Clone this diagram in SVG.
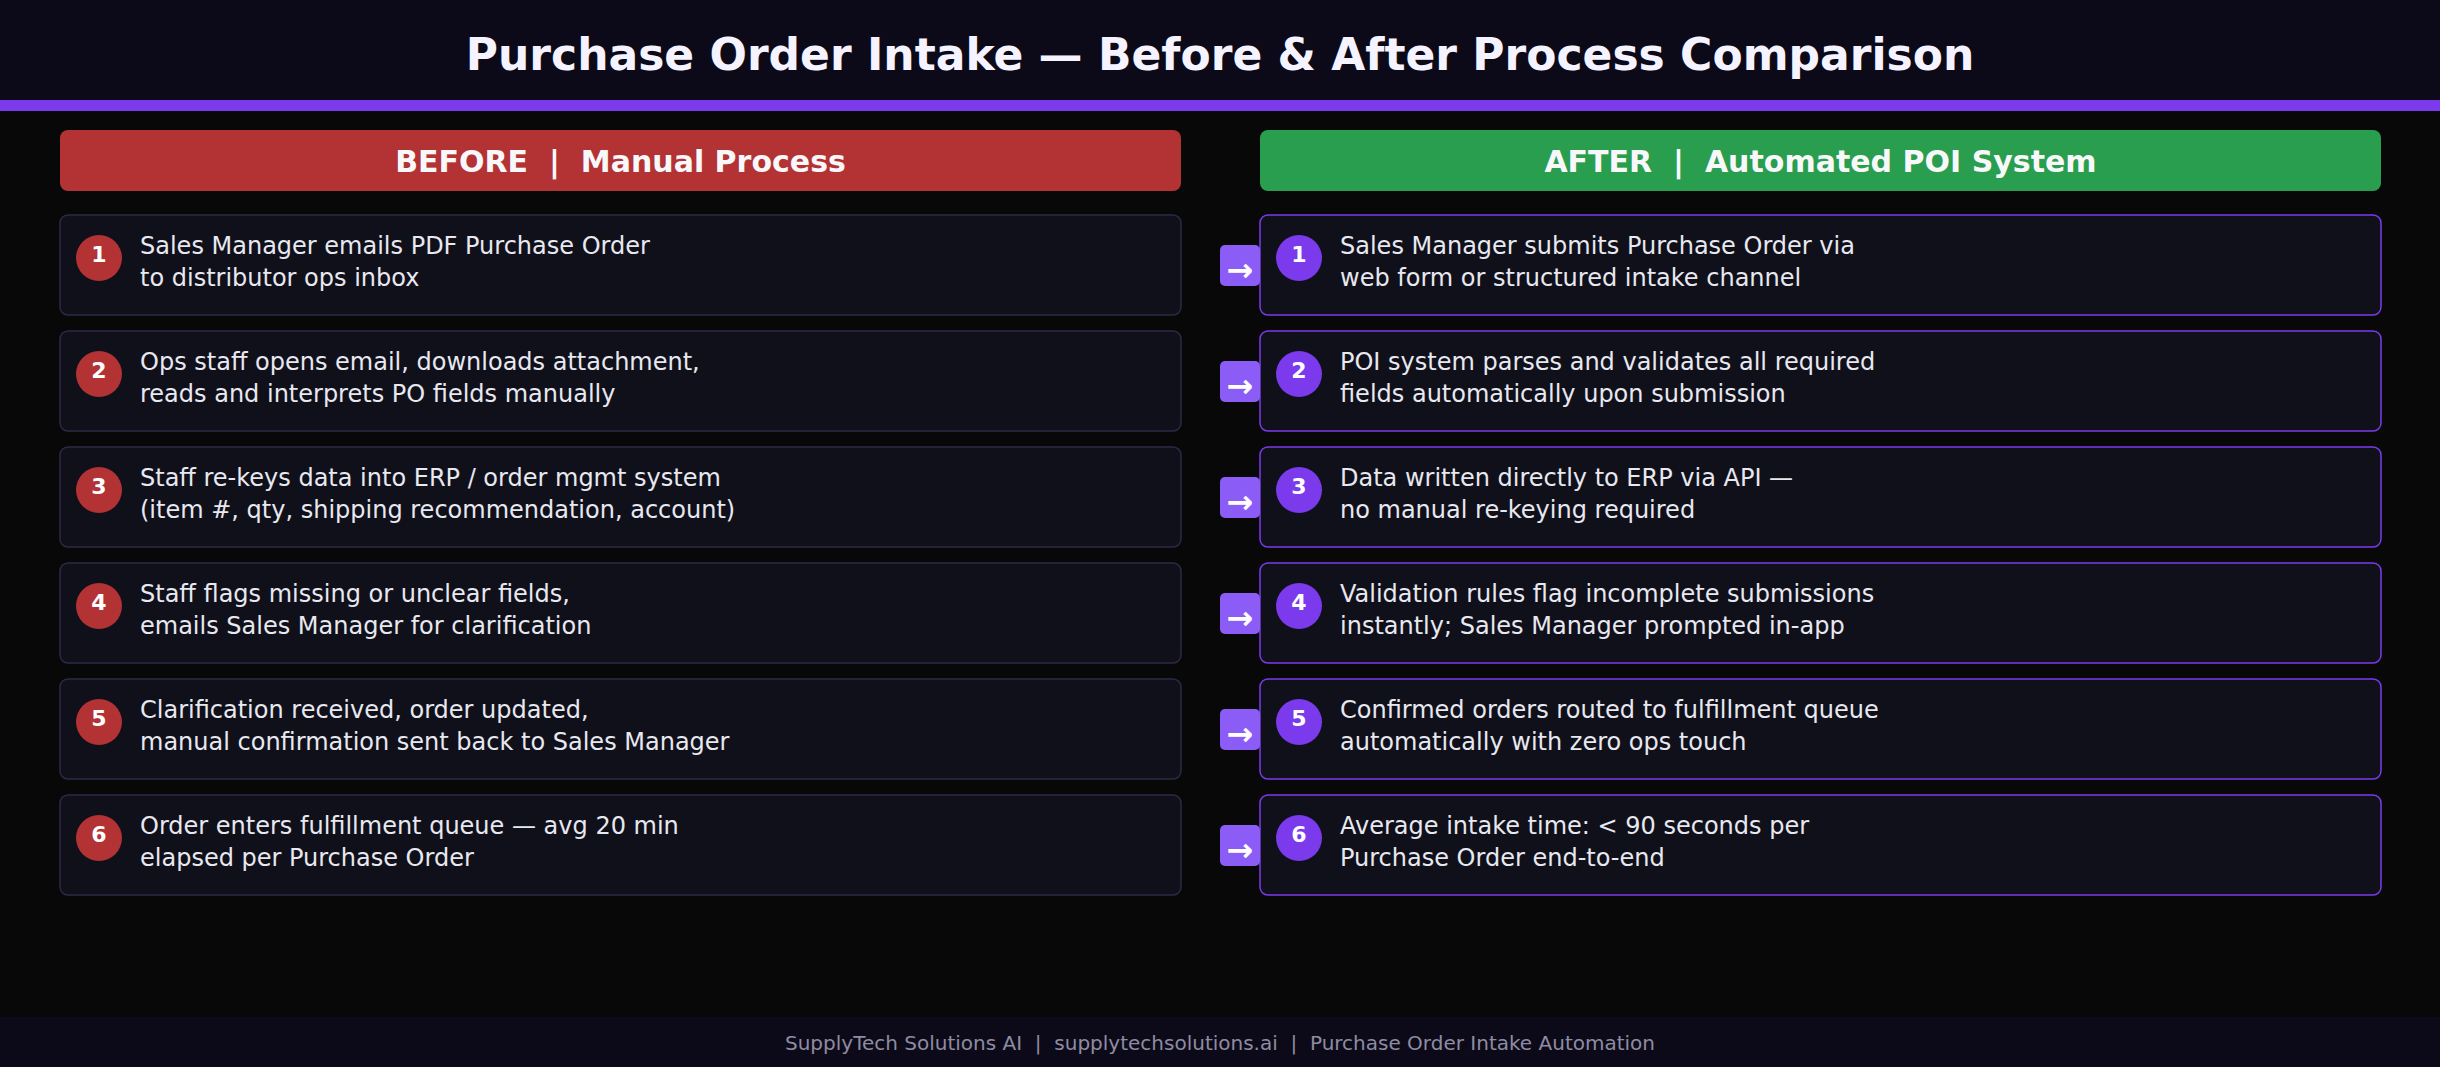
<svg xmlns="http://www.w3.org/2000/svg" width="2440" height="1067" viewBox="0 0 2440 1067">
<style>
text{font-family:"DejaVu Sans","Verdana",sans-serif}
.title{font-size:44px;font-weight:bold;fill:#f5f3ff;text-anchor:middle}
.colhead{font-size:30px;font-weight:bold;fill:#f8f8fb;text-anchor:middle}
.card-b{fill:#10101b;stroke:#2c2a44;stroke-width:1.5}
.card-a{fill:#10101b;stroke:#7c3aed;stroke-width:1.5}
.num{font-size:22px;font-weight:bold;fill:#ffffff;text-anchor:middle}
.body{font-size:24px;fill:#e8e8f0}
.arrowbox{fill:#8b5cf6}
.arrow{font-size:32px;font-weight:bold;fill:#ffffff;text-anchor:middle}
.foot{font-size:20px;fill:#8e8ca2;text-anchor:middle}
</style>
<rect x="0" y="0" width="2440" height="1067" fill="#080808"/>
<g id="header">
<rect x="0" y="0" width="2440" height="100" fill="#0c0a18"/>
<rect x="0" y="100" width="2440" height="11" fill="#7c3aed"/>
<text class="title" x="1220" y="70">Purchase Order Intake — Before &amp; After Process Comparison</text>
</g>
<g id="before-header">
<rect x="60" y="130" width="1121" height="61" rx="8" fill="#b33234"/>
<text class="colhead" x="620.5" y="172" xml:space="preserve">BEFORE  |  Manual Process</text>
</g>
<g id="after-header">
<rect x="1260" y="130" width="1121" height="61" rx="8" fill="#2a9e4f"/>
<text class="colhead" x="1820.5" y="172" xml:space="preserve">AFTER  |  Automated POI System</text>
</g>
<g id="before-1" transform="translate(60,215)">
<rect class="card-b" x="0" y="0" width="1121" height="100" rx="8"/>
<circle cx="39" cy="43" r="23" fill="#b33234"/><text class="num" x="39" y="47">1</text>
<text class="body" x="80" y="39">Sales Manager emails PDF Purchase Order</text>
<text class="body" x="80" y="70.5">to distributor ops inbox</text>
</g>
<g id="before-2" transform="translate(60,331)">
<rect class="card-b" x="0" y="0" width="1121" height="100" rx="8"/>
<circle cx="39" cy="43" r="23" fill="#b33234"/><text class="num" x="39" y="47">2</text>
<text class="body" x="80" y="39">Ops staff opens email, downloads attachment,</text>
<text class="body" x="80" y="70.5">reads and interprets PO fields manually</text>
</g>
<g id="before-3" transform="translate(60,447)">
<rect class="card-b" x="0" y="0" width="1121" height="100" rx="8"/>
<circle cx="39" cy="43" r="23" fill="#b33234"/><text class="num" x="39" y="47">3</text>
<text class="body" x="80" y="39">Staff re-keys data into ERP / order mgmt system</text>
<text class="body" x="80" y="70.5">(item #, qty, shipping recommendation, account)</text>
</g>
<g id="before-4" transform="translate(60,563)">
<rect class="card-b" x="0" y="0" width="1121" height="100" rx="8"/>
<circle cx="39" cy="43" r="23" fill="#b33234"/><text class="num" x="39" y="47">4</text>
<text class="body" x="80" y="39">Staff flags missing or unclear fields,</text>
<text class="body" x="80" y="70.5">emails Sales Manager for clarification</text>
</g>
<g id="before-5" transform="translate(60,679)">
<rect class="card-b" x="0" y="0" width="1121" height="100" rx="8"/>
<circle cx="39" cy="43" r="23" fill="#b33234"/><text class="num" x="39" y="47">5</text>
<text class="body" x="80" y="39">Clarification received, order updated,</text>
<text class="body" x="80" y="70.5">manual confirmation sent back to Sales Manager</text>
</g>
<g id="before-6" transform="translate(60,795)">
<rect class="card-b" x="0" y="0" width="1121" height="100" rx="8"/>
<circle cx="39" cy="43" r="23" fill="#b33234"/><text class="num" x="39" y="47">6</text>
<text class="body" x="80" y="39">Order enters fulfillment queue — avg 20 min</text>
<text class="body" x="80" y="70.5">elapsed per Purchase Order</text>
</g>
<g id="after-1" transform="translate(1260,215)">
<rect class="card-a" x="0" y="0" width="1121" height="100" rx="8"/>
<circle cx="39" cy="43" r="23" fill="#7c3aed"/><text class="num" x="39" y="47">1</text>
<text class="body" x="80" y="39">Sales Manager submits Purchase Order via</text>
<text class="body" x="80" y="70.5">web form or structured intake channel</text>
</g>
<g id="after-2" transform="translate(1260,331)">
<rect class="card-a" x="0" y="0" width="1121" height="100" rx="8"/>
<circle cx="39" cy="43" r="23" fill="#7c3aed"/><text class="num" x="39" y="47">2</text>
<text class="body" x="80" y="39">POI system parses and validates all required</text>
<text class="body" x="80" y="70.5">fields automatically upon submission</text>
</g>
<g id="after-3" transform="translate(1260,447)">
<rect class="card-a" x="0" y="0" width="1121" height="100" rx="8"/>
<circle cx="39" cy="43" r="23" fill="#7c3aed"/><text class="num" x="39" y="47">3</text>
<text class="body" x="80" y="39">Data written directly to ERP via API —</text>
<text class="body" x="80" y="70.5">no manual re-keying required</text>
</g>
<g id="after-4" transform="translate(1260,563)">
<rect class="card-a" x="0" y="0" width="1121" height="100" rx="8"/>
<circle cx="39" cy="43" r="23" fill="#7c3aed"/><text class="num" x="39" y="47">4</text>
<text class="body" x="80" y="39">Validation rules flag incomplete submissions</text>
<text class="body" x="80" y="70.5">instantly; Sales Manager prompted in-app</text>
</g>
<g id="after-5" transform="translate(1260,679)">
<rect class="card-a" x="0" y="0" width="1121" height="100" rx="8"/>
<circle cx="39" cy="43" r="23" fill="#7c3aed"/><text class="num" x="39" y="47">5</text>
<text class="body" x="80" y="39">Confirmed orders routed to fulfillment queue</text>
<text class="body" x="80" y="70.5">automatically with zero ops touch</text>
</g>
<g id="after-6" transform="translate(1260,795)">
<rect class="card-a" x="0" y="0" width="1121" height="100" rx="8"/>
<circle cx="39" cy="43" r="23" fill="#7c3aed"/><text class="num" x="39" y="47">6</text>
<text class="body" x="80" y="39">Average intake time: &lt; 90 seconds per</text>
<text class="body" x="80" y="70.5">Purchase Order end-to-end</text>
</g>
<g id="connectors">
<g transform="translate(1220,245)"><rect class="arrowbox" x="0" y="0" width="40" height="41" rx="5"/><text class="arrow" x="20" y="36">→</text></g>
<g transform="translate(1220,361)"><rect class="arrowbox" x="0" y="0" width="40" height="41" rx="5"/><text class="arrow" x="20" y="36">→</text></g>
<g transform="translate(1220,477)"><rect class="arrowbox" x="0" y="0" width="40" height="41" rx="5"/><text class="arrow" x="20" y="36">→</text></g>
<g transform="translate(1220,593)"><rect class="arrowbox" x="0" y="0" width="40" height="41" rx="5"/><text class="arrow" x="20" y="36">→</text></g>
<g transform="translate(1220,709)"><rect class="arrowbox" x="0" y="0" width="40" height="41" rx="5"/><text class="arrow" x="20" y="36">→</text></g>
<g transform="translate(1220,825)"><rect class="arrowbox" x="0" y="0" width="40" height="41" rx="5"/><text class="arrow" x="20" y="36">→</text></g>
</g>
<g id="footer">
<rect x="0" y="1017" width="2440" height="50" fill="#0c0a18"/>
<text class="foot" x="1220" y="1050" xml:space="preserve">SupplyTech Solutions AI  |  supplytechsolutions.ai  |  Purchase Order Intake Automation</text>
</g>
</svg>
